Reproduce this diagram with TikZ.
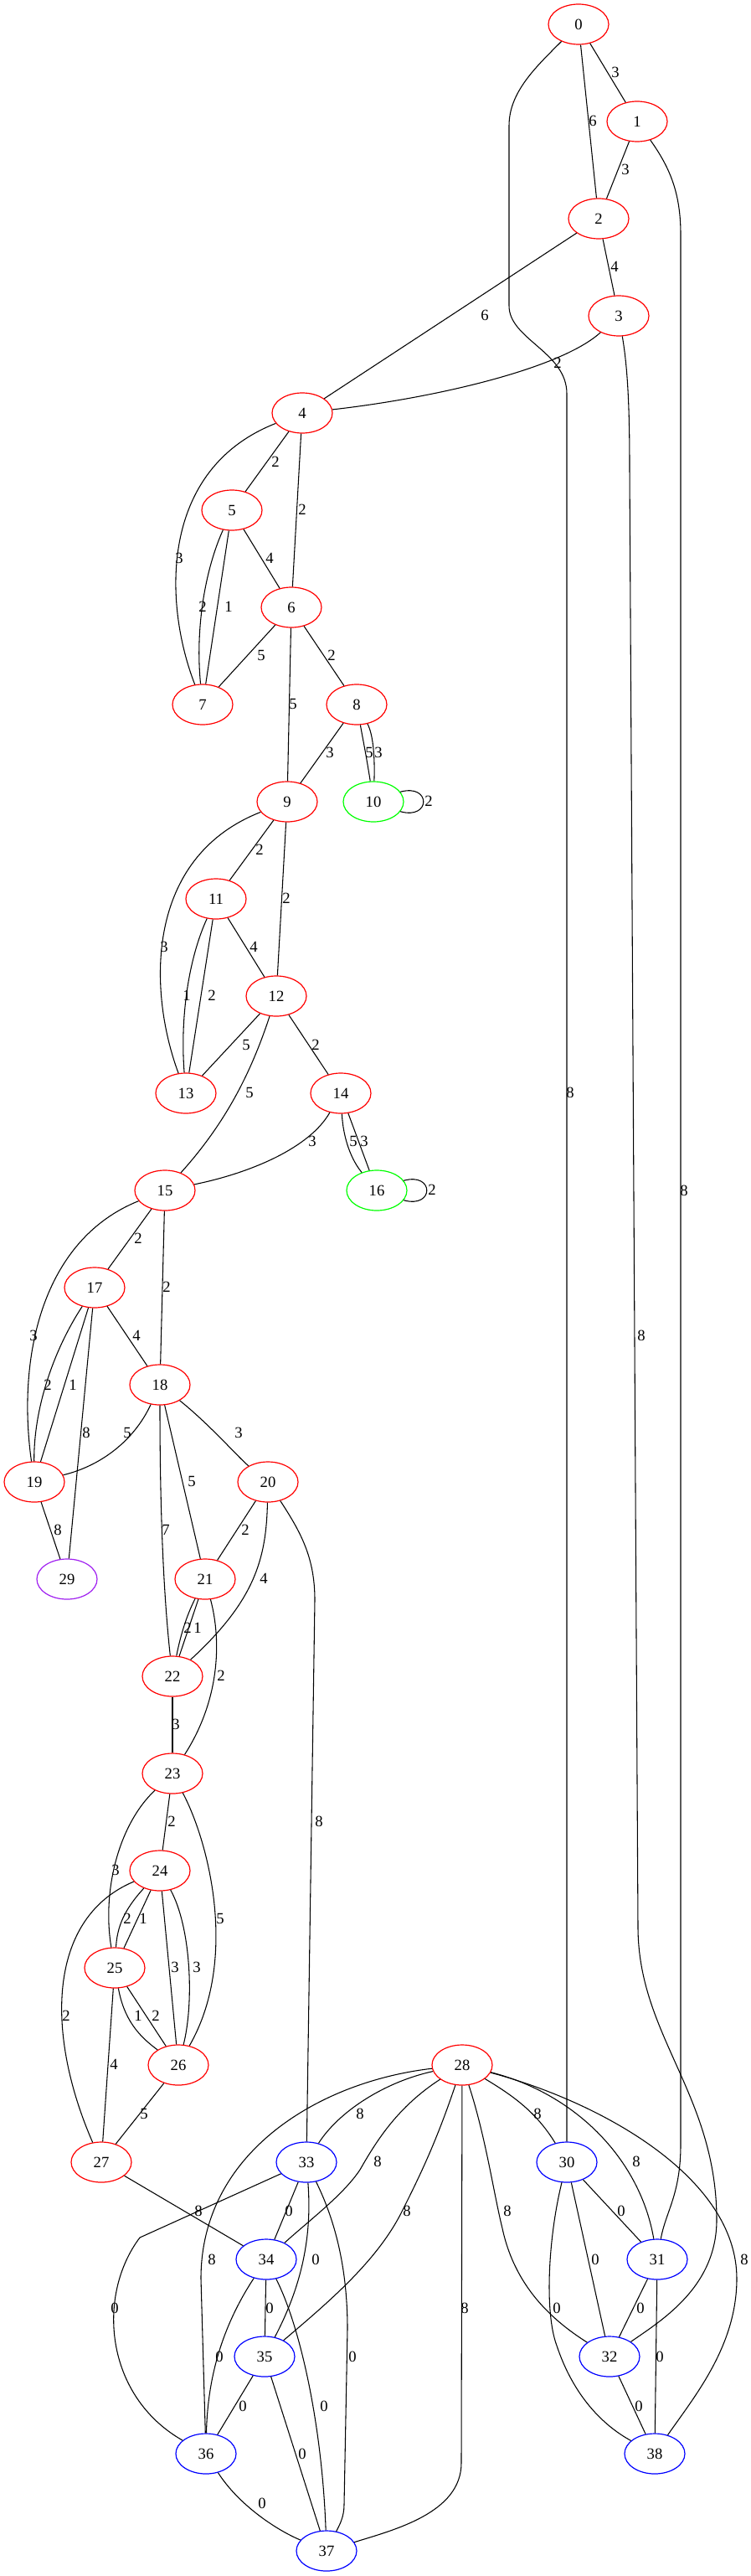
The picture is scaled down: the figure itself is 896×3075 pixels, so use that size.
\documentclass[tikz,border=0pt]{standalone}
\usepackage{fontspec}
\setmainfont{Liberation Serif}
\usetikzlibrary{shapes.geometric}

\definecolor{gvpurple}{HTML}{A020F0}

\begin{document}
\begin{tikzpicture}[x=0.75pt, y=-0.75pt,
        vtx/.style={ellipse, draw=#1, line width=0.9pt, minimum width=54pt, minimum height=36pt,
                    inner sep=0pt, font=\fontsize{14}{16}\selectfont},
        edge/.style={line width=0.8pt},
        lbl/.style={inner sep=0pt, font=\fontsize{14}{16}\selectfont}]

                        \useasboundingbox (0,0) rectangle (896,3075);

                        % Vertices:
                        \node[vtx=red] (n0) at (691,29) {0};
                        \node[vtx=red] (n1) at (761,145) {1};
                        \node[vtx=red] (n2) at (715,261) {2};
                        \node[vtx=red] (n3) at (739,377) {3};
                        \node[vtx=red] (n4) at (361,493) {4};
                        \node[vtx=red] (n5) at (277,609) {5};
                        \node[vtx=red] (n6) at (348,725) {6};
                        \node[vtx=red] (n7) at (242,841) {7};
                        \node[vtx=red] (n8) at (426,841) {8};
                        \node[vtx=red] (n9) at (343,957) {9};
                        \node[vtx=green] (n10) at (446,957) {10};
                        \node[vtx=red] (n11) at (258,1073) {11};
                        \node[vtx=red] (n12) at (330,1189) {12};
                        \node[vtx=red] (n13) at (222,1305) {13};
                        \node[vtx=red] (n14) at (407,1305) {14};
                        \node[vtx=red] (n15) at (197,1421) {15};
                        \node[vtx=green] (n16) at (450,1421) {16};
                        \node[vtx=red] (n17) at (113,1537) {17};
                        \node[vtx=red] (n18) at (191,1653) {18};
                        \node[vtx=red] (n19) at (41,1769) {19};
                        \node[vtx=red] (n20) at (320,1769) {20};
                        \node[vtx=gvpurple] (n29) at (80,1885) {29};
                        \node[vtx=red] (n21) at (245,1885) {21};
                        \node[vtx=red] (n22) at (206,2001) {22};
                        \node[vtx=red] (n23) at (206,2117) {23};
                        \node[vtx=red] (n24) at (191,2233) {24};
                        \node[vtx=red] (n25) at (137,2349) {25};
                        \node[vtx=red] (n26) at (213,2465) {26};
                        \node[vtx=red] (n28) at (552,2465) {28};
                        \node[vtx=red] (n27) at (121,2581) {27};
                        \node[vtx=blue] (n33) at (366,2581) {33};
                        \node[vtx=blue] (n30) at (677,2581) {30};
                        \node[vtx=blue] (n34) at (318,2697) {34};
                        \node[vtx=blue] (n31) at (785,2697) {31};
                        \node[vtx=blue] (n35) at (316,2813) {35};
                        \node[vtx=blue] (n32) at (728,2813) {32};
                        \node[vtx=blue] (n36) at (246,2929) {36};
                        \node[vtx=blue] (n38) at (782,2929) {38};
                        \node[vtx=blue] (n37) at (390,3045) {37};

                        % Top part:
                        \draw[edge] (n0) -- (n1) node[lbl] at (735,86) {3};
                        \draw[edge] (n0) -- (n2) node[lbl] at (708,144) {6};
                        \draw[edge] (n0) .. controls (640,80) and (608,110) .. (608,150) -- (608,365)
                                         .. controls (608,405) and (677,420) .. (677,470) -- (n30)
                                         node[lbl] at (681,1304) {8};
                        \draw[edge] (n1) -- (n2) node[lbl] at (747,202) {3};
                        \draw[edge] (n1) .. controls (800,200) and (813,230) .. (813,280) -- (813,2560)
                                         .. controls (813,2620) and (795,2640) .. (n31)
                                         node[lbl] at (817,1421) {8};
                        \draw[edge] (n2) -- (n3) node[lbl] at (734,318) {4};
                        \draw[edge] (n2) -- (n4) node[lbl] at (579,376) {6};
                        \draw[edge] (n3) .. controls (670,440) and (520,475) .. (n4) node[lbl] at (666,433) {2};
                        \draw[edge] (n3) .. controls (750,440) and (752,490) .. (752,560) -- (762,2300)
                                         .. controls (762,2430) and (856,2500) .. (856,2650)
                                         .. controls (856,2730) and (790,2770) .. (n32)
                                         node[lbl] at (766,1594) {8};

                        \draw[edge] (n4) -- (n5) node[lbl] at (329,551) {2};
                        \draw[edge] (n4) -- (n6) node[lbl] at (361,608) {2};
                        \draw[edge] (n4) .. controls (190,560) and (195,720) .. (n7) node[lbl] at (214,666) {3};
                        \draw[edge] (n5) -- (n6) node[lbl] at (322,666) {4};
                        \draw[edge] (n5) .. controls (245,680) and (233,750) .. (n7) node[lbl] at (242,724) {2};
                        \draw[edge] (n5) -- (n7) node[lbl] at (273,724) {1};
                        \draw[edge] (n6) -- (n7) node[lbl] at (312,782) {5};
                        \draw[edge] (n6) -- (n8) node[lbl] at (396,782) {2};
                        \draw[edge] (n6) -- (n9) node[lbl] at (350,840) {5};
                        \draw[edge] (n8) -- (n9) node[lbl] at (394,898) {3};
                        \draw[edge] (n8) .. controls (433,880) and (438,905) .. (n10) node[lbl] at (441,898) {5};
                        \draw[edge] (n8) .. controls (445,875) and (448,900) .. (n10) node[lbl] at (452,898) {3};
                        \draw[edge] (n10.20) .. controls (515,935) and (515,979) .. (n10.-20) node[lbl] at (512,956) {2};

                        \draw[edge] (n9) -- (n11) node[lbl] at (310,1014) {2};
                        \draw[edge] (n9) -- (n12) node[lbl] at (342,1072) {2};
                        \draw[edge] (n9) .. controls (172,1024) and (177,1184) .. (n13) node[lbl] at (196,1130) {3};
                        \draw[edge] (n11) -- (n12) node[lbl] at (303,1130) {4};
                        \draw[edge] (n11) .. controls (225,1145) and (215,1215) .. (n13) node[lbl] at (223,1188) {1};
                        \draw[edge] (n11) -- (n13) node[lbl] at (253,1188) {2};
                        \draw[edge] (n12) -- (n13) node[lbl] at (294,1247) {5};
                        \draw[edge] (n12) .. controls (300,1280) and (270,1340) .. (n15) node[lbl] at (298,1304) {5};
                        \draw[edge] (n12) -- (n14) node[lbl] at (377,1247) {2};
                        \draw[edge] (n14) .. controls (370,1370) and (300,1400) .. (n15) node[lbl] at (373,1362) {3};
                        \draw[edge] (n14) .. controls (410,1360) and (420,1385) .. (n16) node[lbl] at (422,1362) {5};
                        \draw[edge] (n14) -- (n16) node[lbl] at (435,1362) {3};
                        \draw[edge] (n16.20) .. controls (519,1399) and (519,1443) .. (n16.-20) node[lbl] at (516,1420) {2};

                        % Middle part:
                        \draw[edge] (n15) -- (n17) node[lbl] at (165,1478) {2};
                        \draw[edge] (n15) -- (n18) node[lbl] at (199,1536) {2};
                        \draw[edge] (n15) .. controls (50,1480) and (20,1620) .. (n19) node[lbl] at (40,1594) {3};
                        \draw[edge] (n17) -- (n18) node[lbl] at (163,1594) {4};
                        \draw[edge] (n17) .. controls (65,1610) and (40,1680) .. (n19) node[lbl] at (57,1653) {2};
                        \draw[edge] (n17) -- (n19) node[lbl] at (87,1653) {1};
                        \draw[edge] (n17) -- (n29) node[lbl] at (103,1710) {8};
                        \draw[edge] (n18) .. controls (160,1720) and (120,1750) .. (n19) node[lbl] at (152,1710) {5};
                        \draw[edge] (n18) .. controls (250,1700) and (285,1740) .. (n20) node[lbl] at (285,1710) {3};
                        \draw[edge] (n18) -- (n21) node[lbl] at (229,1768) {5};
                        \draw[edge] (n18) .. controls (191,1800) and (195,1900) .. (n22) node[lbl] at (198,1826) {7};
                        \draw[edge] (n19) -- (n29) node[lbl] at (69,1826) {8};
                        \draw[edge] (n20) -- (n21) node[lbl] at (293,1826) {2};
                        \draw[edge] (n20) .. controls (318,1860) and (305,1910) .. (n22) node[lbl] at (315,1884) {4};
                        \draw[edge] (n20) .. controls (360,1830) and (376,1860) .. (376,1910) -- (n33)
                                          node[lbl] at (381,2174) {8};
                        \draw[edge] (n21) .. controls (222,1930) and (215,1955) .. (n22) node[lbl] at (224,1943) {2};
                        \draw[edge] (n21) -- (n22) node[lbl] at (236,1943) {1};
                        \draw[edge] (n21) .. controls (265,1960) and (262,2030) .. (n23) node[lbl] at (264,2000) {2};
                        \draw[edge] (n22) -- (n23) node[lbl] at (210,2058) {3};
                        \draw[edge] (n23) -- (n24) node[lbl] at (205,2174) {2};
                        \draw[edge] (n23) .. controls (140,2180) and (122,2260) .. (n25) node[lbl] at (138,2232) {3};
                        \draw[edge] (n23) .. controls (250,2200) and (285,2340) .. (n26) node[lbl] at (263,2290) {5};
                        \draw[edge] (n24) .. controls (148,2280) and (140,2300) .. (n25) node[lbl] at (152,2290) {2};
                        \draw[edge] (n24) -- (n25) node[lbl] at (171,2290) {1};
                        \draw[edge] (n24) -- (n26) node[lbl] at (209,2348) {3};
                        \draw[edge] (n24) .. controls (228,2300) and (232,2390) .. (n26) node[lbl] at (235,2348) {3};
                        \draw[edge] (n24) .. controls (55,2290) and (55,2430) .. (n27) node[lbl] at (79,2406) {2};
                        \draw[edge] (n25) .. controls (148,2410) and (165,2430) .. (n26) node[lbl] at (165,2406) {1};
                        \draw[edge] (n25) -- (n26) node[lbl] at (186,2406) {2};
                        \draw[edge] (n25) -- (n27) node[lbl] at (136,2464) {4};
                        \draw[edge] (n26) -- (n27) node[lbl] at (172,2523) {5};

                        % Bottom part:
                        \draw[edge] (n27) -- (n34) node[lbl] at (237,2639) {8};
                        \draw[edge] (n28) .. controls (460,2485) and (405,2520) .. (n33) node[lbl] at (430,2523) {8};
                        \draw[edge] (n28) .. controls (475,2515) and (450,2555) .. (430,2590)
                                          .. controls (410,2620) and (370,2650) .. (n34) node[lbl] at (451,2580) {8};
                        \draw[edge] (n28) .. controls (520,2560) and (500,2600) .. (480,2640)
                                          .. controls (450,2700) and (390,2750) .. (n35) node[lbl] at (486,2639) {8};
                        \draw[edge] (n28) .. controls (380,2485) and (240,2570) .. (240,2720) -- (n36)
                                          node[lbl] at (253,2697) {8};
                        \draw[edge] (n28) -- (551,2940) .. controls (551,3000) and (470,3020) .. (n37)
                                          node[lbl] at (555,2755) {8};
                        \draw[edge] (n28) .. controls (610,2500) and (640,2520) .. (n30) node[lbl] at (642,2523) {8};
                        \draw[edge] (n28) .. controls (690,2500) and (765,2580) .. (n31) node[lbl] at (760,2580) {8};
                        \draw[edge] (n28) .. controls (720,2510) and (880,2600) .. (880,2720)
                                          .. controls (880,2800) and (830,2860) .. (n38) node[lbl] at (889,2697) {8};
                        \draw[edge] (n28) .. controls (580,2550) and (590,2620) .. (600,2660)
                                          .. controls (615,2730) and (660,2770) .. (n32) node[lbl] at (606,2639) {8};

                        \draw[edge] (n33) -- (n34) node[lbl] at (345,2639) {0};
                        \draw[edge] (n33) .. controls (372,2660) and (365,2720) .. (n35) node[lbl] at (377,2697) {0};
                        \draw[edge] (n33) -- (167,2671) .. controls (115,2740) and (125,2860) .. (n36)
                                          node[lbl] at (137,2755) {0};
                        \draw[edge] (n33) .. controls (405,2660) and (415,2720) .. (415,2780) -- (411,2990)
                                          .. controls (411,3005) and (405,3015) .. (n37) node[lbl] at (421,2813) {0};
                        \draw[edge] (n34) -- (n35) node[lbl] at (322,2755) {0};
                        \draw[edge] (n34) .. controls (270,2770) and (248,2830) .. (n36) node[lbl] at (262,2813) {0};
                        \draw[edge] (n34) .. controls (360,2780) and (385,2900) .. (n37) node[lbl] at (387,2872) {0};
                        \draw[edge] (n35) -- (n36) node[lbl] at (290,2872) {0};
                        \draw[edge] (n35) -- (n37) node[lbl] at (361,2929) {0};
                        \draw[edge] (n36) .. controls (285,2990) and (330,3020) .. (n37) node[lbl] at (313,2988) {0};

                        \draw[edge] (n30) -- (n31) node[lbl] at (742,2639) {0};
                        \draw[edge] (n30) -- (n32) node[lbl] at (711,2697) {0};
                        \draw[edge] (n30) .. controls (655,2670) and (650,2760) .. (665,2800)
                                          .. controls (685,2860) and (720,2895) .. (n38) node[lbl] at (665,2755) {0};
                        \draw[edge] (n31) -- (n32) node[lbl] at (765,2755) {0};
                        \draw[edge] (n31) -- (n38) node[lbl] at (788,2813) {0};
                        \draw[edge] (n32) -- (n38) node[lbl] at (763,2872) {0};
                    \end{tikzpicture}
\end{document}
